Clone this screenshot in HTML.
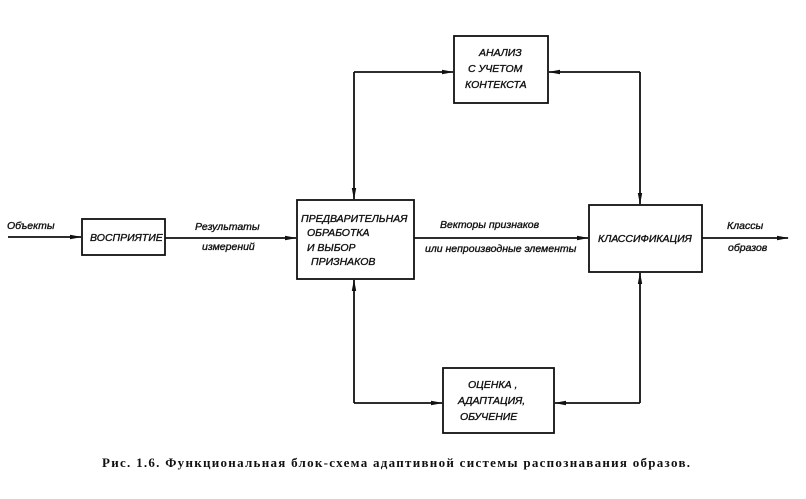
<!DOCTYPE html>
<html><head><meta charset="utf-8"><style>
body{margin:0;background:#fff;width:806px;height:494px;overflow:hidden}
svg text{font-family:"Liberation Sans","DejaVu Sans",sans-serif;font-style:italic;fill:#111;stroke:#111;stroke-width:0.35}
</style></head><body>
<svg width="806" height="494" viewBox="0 0 806 494" xmlns="http://www.w3.org/2000/svg">
<defs><marker id="a" markerWidth="12" markerHeight="6" refX="11" refY="3" orient="auto" markerUnits="userSpaceOnUse"><path d="M0,0.8 L12,3 L0,5.2 Z" fill="#111"/></marker></defs>
<g stroke="#111" stroke-width="1.8" fill="none">
<rect x="82" y="219" width="83" height="36"/>
<rect x="297" y="200" width="117" height="79"/>
<rect x="589" y="205" width="113" height="67"/>
<rect x="454" y="36" width="94" height="67"/>
<rect x="443" y="368" width="111" height="65"/>
<line x1="8" y1="237" x2="81" y2="237" marker-end="url(#a)"/>
<line x1="165" y1="238" x2="296" y2="238" marker-end="url(#a)"/>
<line x1="414" y1="238" x2="588" y2="238" marker-end="url(#a)"/>
<line x1="702" y1="238" x2="788" y2="238" marker-end="url(#a)"/>
<polyline points="354,72 453,72" marker-end="url(#a)"/>
<polyline points="354,72 354,199" marker-end="url(#a)"/>
<polyline points="640,72 549,72" marker-end="url(#a)"/>
<polyline points="640,72 640,204" marker-end="url(#a)"/>
<polyline points="354,403 442,403" marker-end="url(#a)"/>
<polyline points="354,403 354,280" marker-end="url(#a)"/>
<polyline points="640,403 555,403" marker-end="url(#a)"/>
<polyline points="640,403 640,273" marker-end="url(#a)"/>
</g>
<g font-size="10.5">
<text x="7" y="229">Объекты</text>
<text x="90" y="241">ВОСПРИЯТИЕ</text>
<text x="195" y="230">Результаты</text>
<text x="202" y="250">измерений</text>
<text x="301" y="222">ПРЕДВАРИТЕЛЬНАЯ</text>
<text x="307" y="236">ОБРАБОТКА</text>
<text x="307" y="251">И ВЫБОР</text>
<text x="311" y="265">ПРИЗНАКОВ</text>
<text x="440" y="228">Векторы признаков</text>
<text x="425" y="252">или непроизводные элементы</text>
<text x="598" y="242">КЛАССИФИКАЦИЯ</text>
<text x="727" y="229">Классы</text>
<text x="728" y="251">образов</text>
<text x="479" y="56">АНАЛИЗ</text>
<text x="468" y="72">С УЧЕТОМ</text>
<text x="465" y="88">КОНТЕКСТА</text>
<text x="468" y="388">ОЦЕНКА ,</text>
<text x="458" y="404">АДАПТАЦИЯ,</text>
<text x="460" y="420">ОБУЧЕНИЕ</text>
</g>
<text x="396" y="467" text-anchor="middle" font-size="13" font-weight="bold" style="font-family:'Liberation Serif',serif;font-style:normal;stroke:none" textLength="588" lengthAdjust="spacing">Рис. 1.6. Функциональная блок-схема адаптивной системы распознавания образов.</text>
</svg>
</body></html>
